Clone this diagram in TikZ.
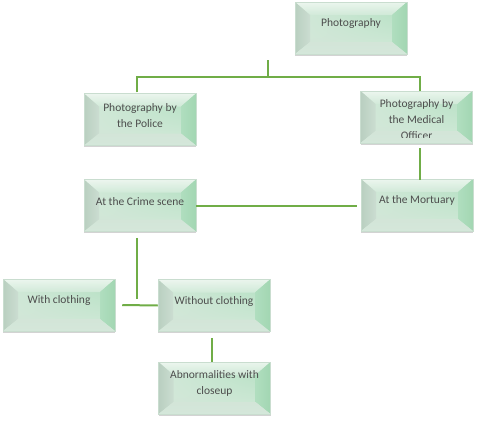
\documentclass[tikz,border=0pt]{standalone}
\usepackage{fontspec}
\setmainfont{Carlito}
\usetikzlibrary{shadows, shadings}
\definecolor{linkgreen}{HTML}{70AD47}
\definecolor{cardline}{HTML}{C9DDCF}
\definecolor{bevtop}{HTML}{F0F8F2}
\definecolor{bevmid}{HTML}{D2EAD9}
\definecolor{bevleft}{HTML}{B9CFC0}
\definecolor{bevleftin}{HTML}{CBDDD1}
\definecolor{bevright}{HTML}{A2D6B2}
\definecolor{bevbottom}{HTML}{D4E7DA}
\definecolor{faceur}{HTML}{B0DEBF}
\definecolor{facell}{HTML}{D3E5D8}
\definecolor{textgray}{HTML}{4D4D4D}
\tikzstyle{link} = [draw=linkgreen, line width=2pt]
\tikzstyle{card} = [rectangle, minimum width=112pt, minimum height=52pt, inner sep=0pt,
  draw=cardline, line width=0.5pt,
  drop shadow={shadow xshift=0pt, shadow yshift=-1.5pt, opacity=0.35},
  path picture={
    \coordinate (bnw) at (path picture bounding box.north west);
    \coordinate (bne) at (path picture bounding box.north east);
    \coordinate (bse) at (path picture bounding box.south east);
    \coordinate (bsw) at (path picture bounding box.south west);
    \coordinate (inw) at ([xshift=15pt,yshift=-13pt]bnw);
    \coordinate (ine) at ([xshift=-15pt,yshift=-13pt]bne);
    \coordinate (ise) at ([xshift=-15pt,yshift=12pt]bse);
    \coordinate (isw) at ([xshift=15pt,yshift=12pt]bsw);
    \shade[upper right=faceur, upper left=bevmid, lower left=facell, lower right=bevmid] (bnw) rectangle (bse);
    \shade[top color=bevtop, bottom color=bevmid, opacity=0.9] (bnw) -- (bne) -- (ine) -- (inw) -- cycle;
    \shade[left color=bevleft, right color=bevleftin] (bnw) -- (inw) -- (isw) -- (bsw) -- cycle;
    \shade[left color=faceur, right color=bevright] (bne) -- (ine) -- (ise) -- (bse) -- cycle;
    \shade[top color=facell, bottom color=bevbottom] (bsw) -- (isw) -- (ise) -- (bse) -- cycle;
  }]
\tikzstyle{cardtext} = [text=textgray, font=\fontsize{11.5}{16}\selectfont, align=center, inner sep=0pt]

\begin{document}
\begin{tikzpicture}[x=1pt, y=-1pt]
  \useasboundingbox (0,0) rectangle (479,423);

  % Cajas
  \node[card] (photo) at (351,28) {};
  \node[cardtext] (phototext) at ([yshift=-22pt]photo.north) {Photography};

  \node[card] (police) at (140,119.5) {};
  \node[cardtext] (policetext) at ([yshift=-22pt]police.north) {Photography by\\the Police};

  \node[card] (medical) at (416.5,117) {};
  \begin{scope}
    \clip ([yshift=-0.5pt]medical.north west) rectangle ([yshift=6pt]medical.south east);
    \node[cardtext, anchor=north] (medicaltext) at ([yshift=-9pt]medical.north) {Photography by\\the Medical\\Officer};
  \end{scope}

  \node[card] (crime) at (140,205.5) {};
  \node[cardtext] (crimetext) at ([yshift=-22pt]crime.north) {At the Crime scene};

  \node[card] (mortuary) at (417,205) {};
  \node[cardtext] (mortuarytext) at ([yshift=-22pt]mortuary.north) {At the Mortuary};

  \node[card] (withc) at (59,305) {};
  \node[cardtext] (withctext) at ([yshift=-22pt]withc.north) {With clothing};

  \node[card] (without) at (214,305.5) {};
  \node[cardtext] (withouttext) at ([yshift=-22pt]without.north) {Without clothing};

  \node[card] (abnorm) at (214.5,388) {};
  \node[cardtext] (abnormtext) at ([yshift=-22pt]abnorm.north) {Abnormalities with\\closeup};

  % Conectores
  \coordinate (fork) at (268,77);
  \draw[link] (fork) -- ++(0,-17);
  \draw[link] ([xshift=-3pt,yshift=1pt]police.north) |- (fork) -| ([xshift=3pt,yshift=0pt]medical.north);
  \draw[link] ([xshift=3.5pt,yshift=-5pt]medical.south) -- ([xshift=3pt,yshift=-1pt]mortuary.north);
  \draw[link] (crime.east) -- ([xshift=-4pt]mortuary.west |- crime.east);
  \draw[link] ([xshift=-3pt,yshift=-6pt]crime.south) -- ++(0,61);
  \draw[link] ([xshift=7pt]withc.east) -- (without.west);
  \draw[link] ([xshift=-2pt,yshift=-6pt]without.south) -- ([xshift=-2.5pt]abnorm.north);
\end{tikzpicture}
\end{document}
